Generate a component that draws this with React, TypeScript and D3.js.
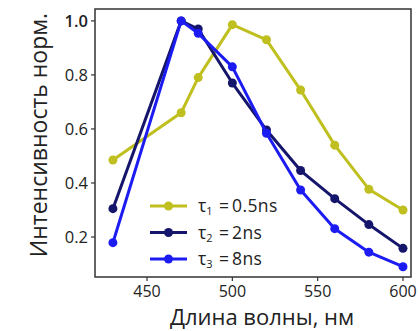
import React from "react";
import * as d3 from "d3";

const wavelengths = [430, 470, 480, 500, 520, 540, 560, 580, 600];
const tau1 = [0.485, 0.66, 0.79, 0.986, 0.93, 0.744, 0.54, 0.377, 0.3];
const tau2 = [0.305, 1.0, 0.97, 0.77, 0.596, 0.446, 0.342, 0.246, 0.158];
const tau3 = [0.179, 1.0, 0.954, 0.83, 0.584, 0.374, 0.231, 0.144, 0.09];
const seriesNames = ["1", "2", "3"];
const seriesValues = ["0.5ns", "2ns", "8ns"];
const seriesColors = ["#bfbf1f", "#15156b", "#1c1cf2"];
const xTicks = [450, 500, 550, 600];
const yTicks = [0.2, 0.4, 0.6, 0.8, 1.0];

export default function App() {
  const W = 418, H = 331;
  const L = 95, R = 411, T = 9, B = 277;
  const x = d3.scaleLinear().domain([419.5, 604.7]).range([L, R]);
  const y = d3.scaleLinear().domain([0.052, 1.044]).range([B, T]);
  const line = d3.line<number>().x((_, i) => x(wavelengths[i])).y((d) => y(d));
  const all = [tau1, tau2, tau3];
  const font = "'Open Sans', 'DejaVu Sans', sans-serif";
  return (
    <svg width={W} height={H} style={{ position: "absolute", left: 0, top: 0 }} fontFamily={font}>
      <rect x={0} y={0} width={W} height={H} fill="#fff" />
      {all.map((s, k) => (
        <g key={k}>
          <path d={line(s) || ""} fill="none" stroke={seriesColors[k]} strokeWidth={3} strokeLinejoin="round" />
          {s.map((v, i) => (
            <circle key={i} cx={x(wavelengths[i])} cy={y(v)} r={4.5} fill={seriesColors[k]} />
          ))}
        </g>
      ))}
      <rect x={L} y={T} width={R - L} height={B - T} fill="none" stroke="#333" strokeWidth={1.5} />
      {yTicks.map((t) => (
        <g key={t}>
          <line x1={L - 4} x2={L} y1={y(t)} y2={y(t)} stroke="#333" strokeWidth={1.2} />
          <text x={L - 7} y={y(t)} dy="0.36em" textAnchor="end" fontSize={16.5} fill="#222" fontWeight={t === 1 ? 600 : 400}>
            {t.toFixed(1)}
          </text>
        </g>
      ))}
      {xTicks.map((t) => (
        <g key={t}>
          <line x1={x(t)} x2={x(t)} y1={B} y2={B + 4} stroke="#333" strokeWidth={1.2} />
          <text x={x(t)} y={297} textAnchor="middle" fontSize={16} fill="#222">
            {t}
          </text>
        </g>
      ))}
      <text x={262} y={325} textAnchor="middle" fontSize={22} fill="#222">
        Длина волны, нм
      </text>
      <text transform={`translate(47,135) rotate(-90)`} textAnchor="middle" fontSize={23} fill="#222">
        Интенсивность норм.
      </text>
      {seriesNames.map((n, k) => {
        const ly = 206 + k * 26.5;
        return (
          <g key={n}>
            <line x1={150} x2={187} y1={ly} y2={ly} stroke={seriesColors[k]} strokeWidth={3} />
            <circle cx={168.5} cy={ly} r={4.5} fill={seriesColors[k]} />
            <text x={198} y={ly} dy="0.36em" fontSize={17.5} fill="#222">
              τ<tspan fontSize={11} dy="3">{n}</tspan>
            </text>
            <text x={224} y={ly} dy="0.36em" fontSize={17.5} fill="#222" textAnchor="middle">
              =
            </text>
            <text x={232} y={ly} dy="0.36em" fontSize={17.5} fill="#222" letterSpacing={0.4}>
              {seriesValues[k]}
            </text>
          </g>
        );
      })}
    </svg>
  );
}
